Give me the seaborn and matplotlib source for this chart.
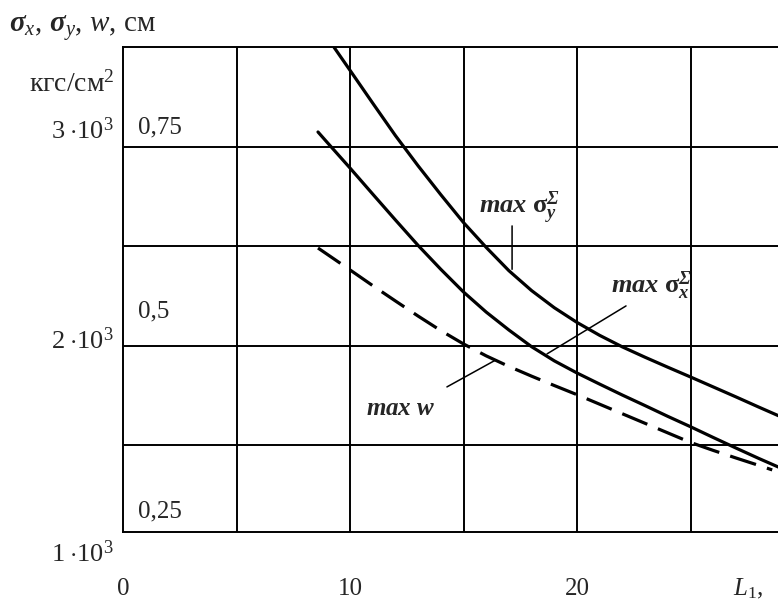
import pandas as pd
import seaborn as sns
import matplotlib.pyplot as plt

# curves (L1 ; stress kgf/cm2)
sy_L = [9.3, 10, 11, 12, 13, 14, 15, 16, 17, 18, 19, 20, 21, 22, 23, 24, 25, 26, 27, 28, 28.9]
sy_val = [3500, 3385, 3220, 3057, 2905, 2760, 2620, 2495, 2378, 2278, 2192, 2118, 2053,
          1995, 1943, 1893, 1844, 1794, 1744, 1693, 1648]

sx_L = [8.59, 9, 10, 11, 12, 13, 14, 15, 16, 17, 18, 19, 20, 21, 22, 23, 24, 25, 26, 27, 28, 28.9]
sx_val = [3075, 3022, 2894, 2763, 2633, 2505, 2385, 2271, 2170, 2080, 1996, 1925, 1864,
          1808, 1753, 1700, 1646, 1594, 1540, 1487, 1435, 1390]

w_L = [8.59, 9, 10, 11, 12, 13, 14, 15, 16, 17, 18, 19, 20, 21, 22, 23, 24, 25, 26, 27, 28, 28.6]
w_val = [2492, 2460, 2382, 2303, 2226, 2150, 2077, 2010, 1950, 1897, 1848, 1801, 1755,
         1707, 1659, 1611, 1563, 1515, 1475, 1437, 1400, 1377]

x_labels = ['0', '10', '20']
x_label_pos = [0, 10, 20]
y_labels = [r'$\mathrm{3\;{\cdot}10^{3}}$', r'$\mathrm{2\;{\cdot}10^{3}}$', r'$\mathrm{1\;{\cdot}10^{3}}$']
y_label_pos = [3080, 2025, 955]
w_labels = ['0,75', '0,5', '0,25']
w_label_pos = [3100, 2171, 1166]

sns.set_style('white')
plt.rcParams['font.family'] = ['Liberation Serif', 'DejaVu Serif']
plt.rcParams['mathtext.fontset'] = 'custom'
plt.rcParams['mathtext.rm'] = 'Liberation Serif'
plt.rcParams['mathtext.it'] = 'Liberation Serif:italic'
plt.rcParams['mathtext.bf'] = 'Liberation Serif:bold'
plt.rcParams['mathtext.bfit'] = 'Liberation Serif:italic:bold'

fig = plt.figure(figsize=(7.78, 6.01), dpi=100)
ax = fig.add_axes([123 / 778, 69 / 601, 30 * 22.7 / 778, 485 / 601])

df_y = pd.DataFrame({'L': sy_L, 's': sy_val})
df_x = pd.DataFrame({'L': sx_L, 's': sx_val})
df_w = pd.DataFrame({'L': w_L, 's': w_val})

sns.lineplot(data=df_y, x='L', y='s', color='black', lw=2.3, ax=ax)
sns.lineplot(data=df_x, x='L', y='s', color='black', lw=2.3, ax=ax)
sns.lineplot(data=df_w, x='L', y='s', color='black', lw=2.3, ax=ax)
ax.lines[-1].set_dashes((8.5, 3.6))

ax.set_xlim(0, 30)
ax.set_ylim(1065, 3502)
for xv in [5, 10, 15, 20, 25]:
    ax.axvline(xv, color='black', lw=1.4, zorder=1)
for yv in [1500, 2000, 2500, 3000]:
    ax.axhline(yv, color='black', lw=1.4, zorder=1)
for sp in ax.spines.values():
    sp.set_color('black')
    sp.set_linewidth(1.4)
ax.set_xticks([])
ax.set_yticks([])
ax.set_xlabel('')
ax.set_ylabel('')

fs = 18
for lab, pos in zip(x_labels, x_label_pos):
    ax.text(pos, 779, lab, ha='center', va='center', fontsize=fs, clip_on=False)
ax.text(26.87, 779, r'$L_{\mathrm{1}}$,', ha='left', va='center', fontsize=fs, clip_on=False)

for lab, pos in zip(y_labels, y_label_pos):
    ax.text(-0.4, pos, lab, ha='right', va='center', fontsize=19, clip_on=False)
for lab, pos in zip(w_labels, w_label_pos):
    ax.text(0.66, pos, lab, ha='left', va='center', fontsize=fs)

ax.text(-0.35, 3276, r'кгс/см$^{\mathrm{2}}$', ha='right', va='baseline', fontsize=20,
        clip_on=False)
ax.text(-5.02, 3578, r'$\mathbfit{\sigma}_{x}$, $\mathbfit{\sigma}_{y}$, $w$, см',
        ha='left', va='baseline', fontsize=21, clip_on=False)

# curve labels with leader lines
ax.text(15.68, 2668, r'$\mathbfit{max}\ \mathbf{\sigma}^{\mathbfit{\Sigma}}_{\mathbfit{y}}$',
        fontsize=19, va='baseline')
ax.text(21.5, 2266, r'$\mathbfit{max}\ \mathbf{\sigma}^{\mathbfit{\Sigma}}_{\mathbfit{x}}$',
        fontsize=19, va='baseline')
ax.text(10.7, 1653, r'$\mathbfit{max\ w}$', fontsize=fs, va='baseline')

lead = dict(arrowstyle='-', color='black', lw=1.1, shrinkA=0, shrinkB=0)
ax.annotate('', xy=(17.14, 2385), xytext=(17.14, 2603), arrowprops=lead)
ax.annotate('', xy=(18.68, 1960), xytext=(22.16, 2201), arrowprops=lead)
ax.annotate('', xy=(16.43, 1930), xytext=(14.27, 1794), arrowprops=lead)

fig.savefig('out.png', dpi=100)
